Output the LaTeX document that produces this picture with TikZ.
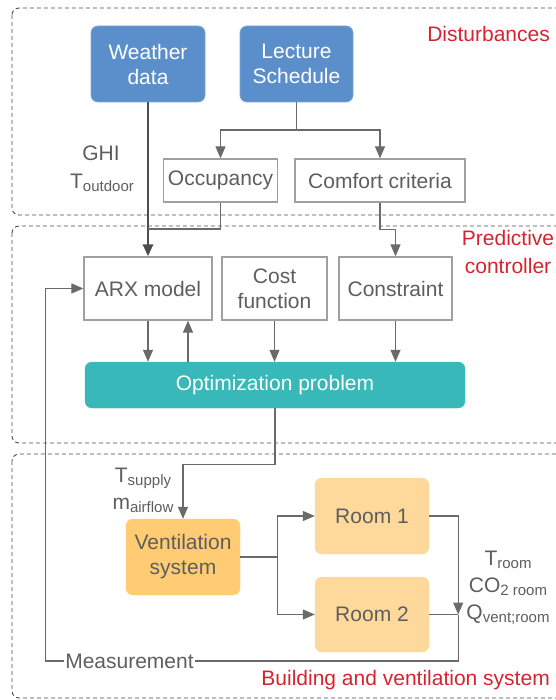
\documentclass[tikz,border=0pt]{standalone}
\usepackage{fontspec}
\setmainfont{Liberation Sans}
\usepackage{xcolor}
\usepackage{tikz}
\usetikzlibrary{arrows.meta}

\definecolor{wxblue}{HTML}{5B8FCB}
\definecolor{optteal}{HTML}{38B8B8}
\definecolor{ventorange}{HTML}{FFCC73}
\definecolor{roomorange}{HTML}{FFD99B}
\definecolor{tagred}{HTML}{D4252E}
\definecolor{txtgray}{HTML}{5E5E5E}
\definecolor{linegray}{HTML}{6A6A6A}
\definecolor{boxgray}{HTML}{A0A0A0}
\definecolor{dashgray}{HTML}{4D4D4D}

% lowered small text for the signal names
\newcommand{\lo}[1]{\raisebox{-3pt}{\fontsize{15}{15}\selectfont #1}}

\tikzset{
  flow/.style={draw=linegray, line width=1.2pt},
  plain/.style={draw=boxgray, line width=1.3pt, fill=white, text=txtgray, align=center, inner sep=0pt},
  inbox/.style={draw=wxblue!80!white, line width=0.8pt, fill=wxblue, text=white, rounded corners=7pt, align=center, inner sep=0pt},
  solvebox/.style={draw=optteal, fill=optteal, text=white, rounded corners=7pt, inner sep=0pt},
  plantbox/.style={draw=ventorange, fill=ventorange, text=txtgray, rounded corners=7pt, align=center, inner sep=0pt},
  roombox/.style={draw=roomorange, fill=roomorange, text=txtgray, rounded corners=7pt, inner sep=0pt},
  group/.style={draw=dashgray, line width=0.9pt, dash pattern=on 4pt off 3pt, rounded corners=7pt},
  sig/.style={text=txtgray, inner sep=1pt},
  tag/.style={text=tagred, inner sep=0pt}
}

\begin{document}
\begin{tikzpicture}[x=1pt, y=-1pt, font=\fontsize{21}{25}\selectfont,
  >={Triangle[length=12pt,width=10pt]}]
\useasboundingbox (0,0) rectangle (555,700);

% the three areas
\draw[group] (12,8) rectangle (580,215);
\draw[group] (12,226) rectangle (580,443);
\draw[group] (12,454) rectangle (580,698);
\node[tag, anchor=east] (tdist) at (550,34) {Disturbances};
\node[tag, align=center, font=\fontsize{21}{28}\selectfont] (tpred) at (508,252) {Predictive\\controller};
\node[tag, anchor=east] (tbuild) at (550,680) {Building and ventilation system};

% disturbances
\node[inbox, minimum width=114, minimum height=76] (weather) at (148,64) {Weather\\data};
\node[inbox, minimum width=113, minimum height=76] (lecture) at (296.5,64) {Lecture\\Schedule};
\node[plain, minimum width=114, minimum height=43] (occ) at (220.5,180.5) {Occupancy};
\node[plain, minimum width=170, minimum height=43] (comfort) at (380,180.5) {Comfort criteria};
\node[sig] (ghi) at (101,153) {GHI};
\node[sig] (tout) at (102,183) {T\lo{outdoor}};

% controller
\node[plain, minimum width=128, minimum height=63] (arx) at (148,288.5) {ARX model};
\node[plain, minimum width=105, minimum height=63] (cost) at (274.5,288.5) {Cost\\function};
\node[plain, minimum width=113, minimum height=63] (constr) at (395.5,288.5) {Constraint};
\node[solvebox, minimum width=380, minimum height=46] (opt) at (275,385) {Optimization problem};

% building
\node[plantbox, minimum width=114, minimum height=76] (vent) at (183,557) {Ventilation\\system};
\node[roombox, minimum width=114, minimum height=76] (room1) at (372,516) {Room 1};
\node[roombox, minimum width=114, minimum height=75] (room2) at (372,614.5) {Room 2};
\node[sig] (tsup) at (143,478) {T\lo{supply}};
\node[sig] (mair) at (143,505) {m\lo{airflow}};
\node[sig] (troom) at (508,560) {T\lo{room}};
\node[sig] (co2) at (508,587) {CO\lo{2 room}};
\node[sig] (qvent) at (508,615) {Q\lo{vent;room}};
\node[sig] (mlabel) at (129.5,661) {Measurement};

% connectors
\coordinate (split) at (296.5,130);
\draw[flow] (lecture.south) -- (split);
\draw[flow,->] (split) -| (occ.north);
\draw[flow,->] (split) -| (comfort.north);
\draw[flow, draw=dashgray, line width=2.8pt, ->] (weather.south) -- (arx.north);
\coordinate (merge) at (148,229);
\draw[flow] (occ.south) |- (merge);
\draw[flow,->] (comfort.south) -- ++(0,27) -| (constr.north);

\draw[flow,->] (arx.south) -- (arx.south |- opt.north);
\coordinate (fb) at ([xshift=40]arx.south);
\draw[flow,->] (fb |- opt.north) -- (fb);
\draw[flow,->] (cost.south) -- (cost.south |- opt.north);
\draw[flow,->] (constr.south) -- (constr.south |- opt.north);
\draw[flow,->] (opt.south) -- ++(0,56) -| (vent.north);

\coordinate (vsplit) at ([xshift=37]vent.east);
\draw[flow] (vent.east) -- (vsplit);
\draw[flow,->] (vsplit) |- (room1.west);
\draw[flow,->] (vsplit) |- (room2.west);
\coordinate (meas) at ([xshift=29]room2.east);
\draw[flow,->] (room1.east) -| (meas);
\draw[flow] (room2.east) -- (meas);
\draw[flow] (meas) |- (mlabel.east);
\draw[flow,->] (mlabel.west) -| ([xshift=-38]arx.west) -- (arx.west);
\end{tikzpicture}
\end{document}
